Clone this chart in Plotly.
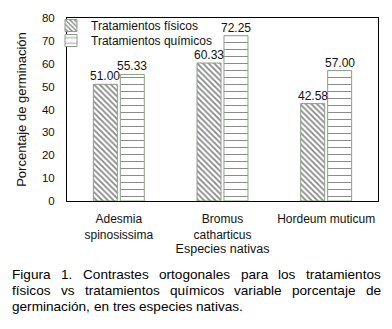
import plotly.graph_objects as go

# ---- data ----
categories = ["Adesmia<br>spinosissima", "Bromus<br>catharticus", "Hordeum muticum"]
fisicos = [51.00, 60.33, 42.58]
quimicos = [55.33, 72.25, 57.00]
y_ticks = [0, 10, 20, 30, 40, 50, 60, 70, 80]
series_names = ["Tratamientos físicos", "Tratamientos químicos"]
x_title = "Especies nativas"
y_title = "Porcentaje de germinación"
caption_lines = [
    "Figura 1. Contrastes ortogonales para los tratamientos",
    "físicos vs tratamientos químicos variable porcentaje de",
    "germinación, en tres especies nativas.",
]

FONT = "Liberation Sans, Arial, sans-serif"
W, H = 392, 329
L, R, T, B = 67, 14, 18, 128
PW, PH = W - L - R, H - T - B
BARGAP, GROUPGAP = 0.48, 0.11

fig = go.Figure()
fig.add_bar(
    x=categories, y=fisicos, name=series_names[0], legend="legend",
    marker=dict(color="white", line=dict(color="#8a9f86", width=1),
                pattern=dict(shape="\\", fgcolor="#111111", bgcolor="white",
                             size=4, solidity=0.45)),
)
fig.add_bar(
    x=categories, y=quimicos, name=series_names[1], legend="legend2",
    marker=dict(color="white", line=dict(color="#8a9f86", width=1),
                pattern=dict(shape="-", fgcolor="#111111", bgcolor="white",
                             size=7, solidity=0.14)),
)

annotations = []
# value labels above bars (data coordinates, shifted to each bar of the group)
cat_px = PW / len(categories)
slot_shift = cat_px * (1 - BARGAP) / 4
for vals, sgn in ((fisicos, -1), (quimicos, 1)):
    for c, v in zip(categories, vals):
        annotations.append(dict(
            text=f"{v:.2f}", x=c, y=v, xref="x", yref="y",
            xanchor="center", yanchor="bottom", xshift=sgn * slot_shift,
            yshift=0, showarrow=False, borderpad=0,
            font=dict(size=12, color="#111111", family=FONT)))

# ---- justified caption, one annotation per word ----
CW = {'a': 556, 'b': 556, 'c': 500, 'd': 556, 'e': 556, 'f': 278, 'g': 556,
      'i': 222, 'j': 222, 'l': 222, 'm': 833, 'n': 556, 'o': 556, 'p': 556,
      'q': 556, 'r': 333, 's': 500, 't': 278, 'u': 556, 'v': 500, 'í': 278,
      'ó': 556, 'F': 611, 'C': 722, '1': 556, '.': 278, ',': 278}
cap_size = 13.6
cap_left, cap_right = 11, 380
cap_y = [274, 290, 306]


def wordw(w):
    return sum(CW.get(ch, 556) for ch in w) / 1000 * cap_size


for li, line in enumerate(caption_lines):
    words = line.split(" ")
    widths = [wordw(w) for w in words]
    if li < len(caption_lines) - 1:
        gap = (cap_right - cap_left - sum(widths)) / (len(words) - 1)
    else:
        gap = 0.278 * cap_size
    x = cap_left
    for w, wd in zip(words, widths):
        annotations.append(dict(
            text=w, x=(x - L) / PW, y=(H - B - cap_y[li]) / PH,
            xref="paper", yref="paper", xanchor="left", yanchor="middle",
            showarrow=False, borderpad=0,
            font=dict(size=cap_size, color="#000000", family=FONT)))
        x += wd + gap

leg_common = dict(xanchor="left", yanchor="top", bgcolor="rgba(0,0,0,0)",
                  font=dict(size=12, family=FONT, color="#111111"), itemwidth=30)
leg_left = 51
fig.update_layout(
    width=W, height=H,
    margin=dict(l=L, r=R, t=T, b=B, autoexpand=False),
    paper_bgcolor="white", plot_bgcolor="white",
    barmode="group", bargap=BARGAP, bargroupgap=GROUPGAP,
    font=dict(family=FONT, size=12, color="#111111"),
    showlegend=True,
    legend=dict(x=(leg_left - L) / PW, y=(H - B - 11) / PH, **leg_common),
    legend2=dict(x=(leg_left - L) / PW, y=(H - B - 26) / PH, **leg_common),
    annotations=annotations,
)
fig.update_yaxes(
    range=[0, 80], tickvals=y_ticks, showgrid=False, zeroline=False,
    showline=True, linecolor="black", linewidth=1, mirror=True,
    ticks="outside", ticklen=9, tickcolor="rgba(0,0,0,0)",
    tickfont=dict(size=11.5, family=FONT, color="#111111"),
    title=dict(text=y_title, font=dict(size=13, family=FONT), standoff=12),
)
fig.update_xaxes(
    showgrid=False, showline=True, linecolor="black", linewidth=1, mirror=True,
    ticks="outside", ticklen=7, tickcolor="rgba(0,0,0,0)",
    tickfont=dict(size=12, family=FONT, color="#111111"),
    title=dict(text=x_title, font=dict(size=12.5, family=FONT), standoff=0),
)

fig.write_html("out.html", config={"displayModeBar": False},
               post_script="document.body.style.margin='0px';")
